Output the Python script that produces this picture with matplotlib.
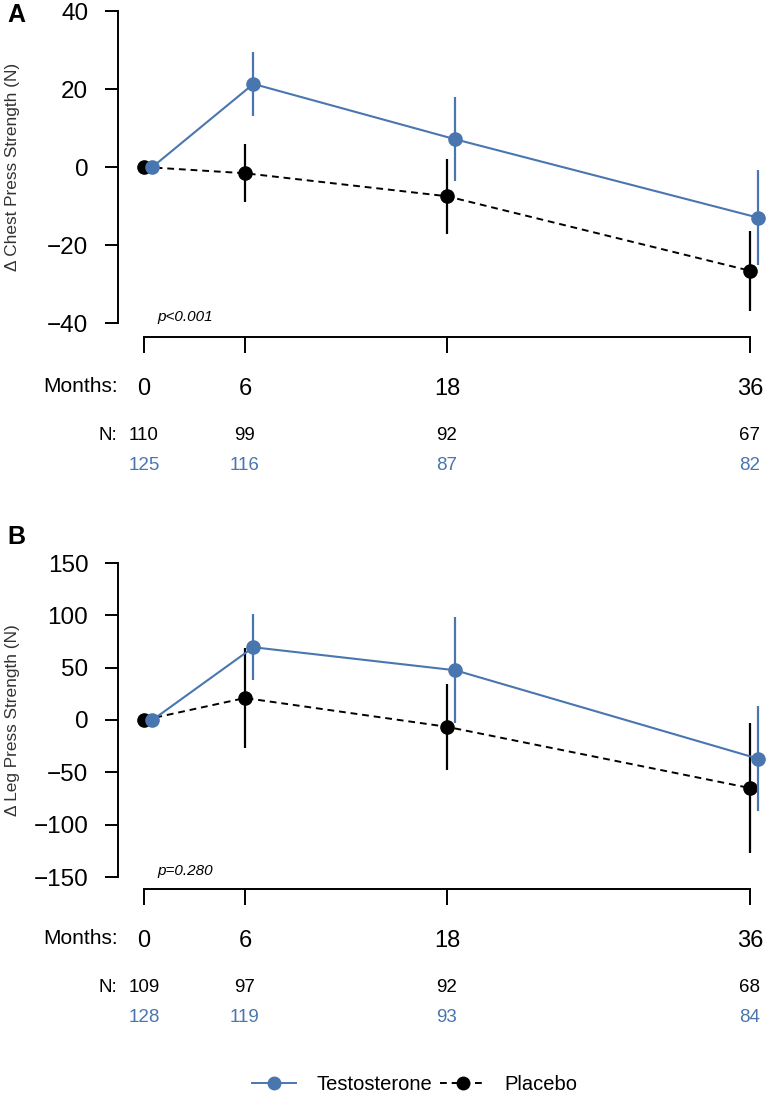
import matplotlib
matplotlib.use('Agg')
import matplotlib.pyplot as plt
import matplotlib.transforms as mtransforms
from matplotlib.lines import Line2D

plt.rcParams['font.family'] = ['Liberation Sans', 'DejaVu Sans']

# data
months = [0, 6, 18, 36]
chest_t = [0, 21.3, 7.1, -13.0]
chest_t_err = [0, 8.1, 10.8, 12.2]
chest_p = [0, -1.6, -7.5, -26.6]
chest_p_err = [0, 7.4, 9.6, 10.3]
leg_t = [0, 69.5, 47.5, -37.0]
leg_t_err = [0, 31.3, 50.5, 50.0]
leg_p = [0, 21.0, -6.5, -65.0]
leg_p_err = [0, 47.5, 41.0, 62.0]
chest_n_p = [110, 99, 92, 67]
chest_n_t = [125, 116, 87, 82]
leg_n_p = [109, 97, 92, 68]
leg_n_t = [128, 119, 93, 84]

W, H = 768, 1097
BLUE = '#4a76b0'
shift = 0.5  # testosterone offset in months

fig = plt.figure(figsize=(W / 100, H / 100), dpi=100)

# pixel -> months: x_px = 144 + 16.83 * m
L_PX, R_PX = 118, 768
x0 = (L_PX - 144) / 16.83
x1 = (R_PX - 144) / 16.83


def panel(top, bottom, ylim, yticks, ylabel, pval, letter, letter_y,
          t, terr, p, perr, n_p, n_t, rows):
    ax = fig.add_axes([L_PX / W, 1 - bottom / H, (R_PX - L_PX) / W, (bottom - top) / H])
    ax.set_xlim(x0, x1)
    ax.set_ylim(ylim)
    for s in ['top', 'right']:
        ax.spines[s].set_visible(False)
    ax.spines['left'].set_linewidth(1.4)
    ax.spines['bottom'].set_linewidth(1.4)
    ax.spines['bottom'].set_position(('outward', rows[0] * 0.72))
    ax.spines['bottom'].set_bounds(0, 36)
    ax.set_yticks(yticks)
    ax.set_xticks(months)
    ax.tick_params(axis='y', length=13 * 0.72, width=1.4, pad=12, labelsize=17.5)
    ax.tick_params(axis='x', length=16 * 0.72, width=1.4, pad=18, labelsize=17)

    xp = months
    xt = [m + shift for m in months]
    ax.plot(xp, p, color='black', lw=1.4, dashes=(3.5, 2.5), zorder=2)
    ax.errorbar(xp, p, yerr=perr, fmt='o', color='black', ms=9.5,
                elinewidth=1.6, capsize=0, zorder=3, clip_on=False)
    ax.plot(xt, t, color=BLUE, lw=1.5, zorder=4)
    ax.errorbar(xt, t, yerr=terr, fmt='o', color=BLUE, ms=9.5,
                elinewidth=1.6, capsize=0, zorder=5, clip_on=False)

    fig.text(13 / W, 1 - (top + bottom) / 2 / H, ylabel, rotation=90,
             ha='center', va='center', fontsize=12.4, color='#333333')
    fig.text(157 / W, 1 - (bottom - 6) / H, pval, style='italic',
             ha='left', va='center', fontsize=11)
    fig.text(7 / W, 1 - letter_y / H, letter, fontweight='bold',
             ha='left', va='center', fontsize=18)

    # table under the axis
    months_y, n_y, nt_y = rows[1], rows[2], rows[3]
    fig.text(118 / W, 1 - months_y / H, 'Months:', ha='right', va='center', fontsize=15)
    fig.text(117 / W, 1 - n_y / H, 'N:', ha='right', va='center', fontsize=13.5)
    tr = mtransforms.blended_transform_factory(ax.transData, fig.transFigure)
    for m, a, b in zip(months, n_p, n_t):
        ax.text(m, 1 - n_y / H, str(a), transform=tr, ha='center', va='center',
                fontsize=13.5, color='black')
        ax.text(m, 1 - nt_y / H, str(b), transform=tr, ha='center', va='center',
                fontsize=13.5, color=BLUE)
    return ax


panel(11, 323, (-40, 40), [-40, -20, 0, 20, 40], '\u0394 Chest Press Strength (N)',
      'p<0.001', 'A', 15, chest_t, chest_t_err, chest_p, chest_p_err,
      chest_n_p, chest_n_t, (14, 387, 435, 465))
panel(563, 877, (-150, 150), [-150, -100, -50, 0, 50, 100, 150],
      '\u0394 Leg Press Strength (N)', 'p=0.280', 'B', 537,
      leg_t, leg_t_err, leg_p, leg_p_err, leg_n_p, leg_n_t, (12, 938, 987, 1017))

handles = [
    Line2D([], [], color=BLUE, marker='o', ms=9, lw=1.4),
    Line2D([], [], color='black', marker='o', ms=9, lw=1.4, dashes=(3.5, 2.5)),
]
fig.legend(handles, ['Testosterone', 'Placebo'], loc='center',
           bbox_to_anchor=(415 / W, 1 - 1085 / H), ncol=2, frameon=False,
           fontsize=14.5, handlelength=2.2, handletextpad=1.0, columnspacing=0.4)

fig.savefig('out.png', dpi=100)
